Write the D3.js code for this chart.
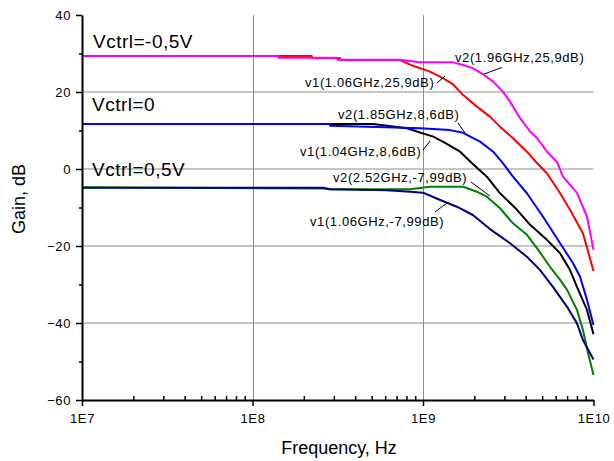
<!DOCTYPE html>
<html>
<head>
<meta charset="utf-8">
<script src="https://cdn.jsdelivr.net/npm/d3@7"></script>
<style>
  body { margin: 0; background: #fff; }
  svg { display: block; font-family: "Liberation Sans", Arial, sans-serif; }
</style>
</head>
<body>
<div id="chart"></div>
<script>
// values (frequency in Hz, gain in dB)
const magentaF = [1e7, 1.41e8, 1.42e8, 3.13e8, 3.15e8, 7.33e8, 9.6e8, 1.5e9, 1.72e9, 1.96e9, 2.25e9, 2.58e9, 2.94e9, 3.24e9, 3.71e9, 4.25e9, 4.67e9, 5.33e9, 6.11e9, 6.62e9, 8.0e9, 9.16e9, 1e10];
const magentaG = [29.35, 29.35, 28.9, 28.9, 28.4, 28.4, 27.7, 27.7, 27.0, 26.2, 24.6, 22.7, 20.1, 17.5, 13.2, 9.7, 8.05, 4.5, 1.8, -2.0, -6.2, -12.4, -21.0];

const redF = [1e7, 2.23e8, 2.24e8, 3.26e8, 3.27e8, 7.33e8, 8.73e8, 1.1e9, 1.31e9, 1.5e9, 1.72e9, 2.07e9, 2.47e9, 2.83e9, 3.37e9, 4.07e9, 4.67e9, 5.33e9, 6.37e9, 7.28e9, 8.67e9, 1e10];
const redG = [29.35, 29.35, 28.8, 28.8, 28.3, 28.3, 26.8, 25.3, 23.6, 22.0, 19.2, 16.2, 13.6, 11.0, 8.0, 4.5, 1.5, -1.1, -6.3, -10.6, -16.7, -26.5];

const blueF = [1e7, 2.84e8, 2.85e8, 5.37e8, 9.6e8, 1.44e9, 1.72e9, 2.16e9, 2.58e9, 2.94e9, 3.37e9, 4.07e9, 5.06e9, 6.37e9, 7.59e9, 8.34e9, 9.16e9, 1e10];
const blueG = [11.7, 11.7, 11.25, 10.9, 10.6, 10.1, 9.4, 7.1, 4.5, 1.5, -2.0, -6.3, -12.4, -19.3, -24.5, -28.0, -34.0, -40.5];

const blackF = [1e7, 5.09e8, 8.05e8, 9.6e8, 1.15e9, 1.38e9, 1.65e9, 1.94e9, 2.37e9, 2.83e9, 3.56e9, 4.25e9, 5.33e9, 6.37e9, 7.28e9, 8.0e9, 9.16e9, 1e10];
const blackG = [11.7, 11.7, 10.6, 9.5, 8.4, 6.5, 4.5, 1.5, -2.0, -6.3, -10.6, -14.5, -18.4, -21.9, -26.2, -30.6, -36.6, -42.9];

const greenF = [1e7, 2.59e8, 2.85e8, 8.4e8, 1.1e9, 1.72e9, 2.07e9, 2.37e9, 2.83e9, 3.37e9, 4.07e9, 4.67e9, 5.56e9, 6.37e9, 7.0e9, 8.0e9, 8.67e9, 9.29e9, 1e10];
const greenG = [-4.75, -5.06, -5.27, -5.27, -4.6, -4.6, -5.9, -7.2, -10.2, -14.1, -17.1, -20.6, -25.4, -28.8, -31.4, -36.6, -41.8, -47.8, -53.5];

const navyF = [1e7, 2.59e8, 2.85e8, 6.15e8, 8.4e8, 1e9, 1.26e9, 1.58e9, 1.96e9, 2.47e9, 3.24e9, 4.07e9, 4.85e9, 5.78e9, 7.0e9, 8.0e9, 8.67e9, 1e10];
const navyG = [-4.85, -4.85, -5.27, -5.53, -5.9, -6.15, -8.05, -9.8, -11.95, -15.6, -19.3, -22.8, -26.2, -30.6, -35.8, -40.1, -44.4, -49.5];

const xTicks = [1e7, 1e8, 1e9, 1e10];
const xTickLabels = ["1E7", "1E8", "1E9", "1E10"];
const yTicks = [-60, -40, -20, 0, 20, 40];
const yMinor = [-50, -30, -10, 10, 30];

const ctrlLabels = ["Vctrl=-0,5V", "Vctrl=0", "Vctrl=0,5V"];
const markerLabels = ["v2(1.96GHz,25,9dB)", "v1(1.06GHz,25,9dB)", "v2(1.85GHz,8,6dB)",
                      "v1(1.04GHz,8,6dB)", "v2(2.52GHz,-7,99dB)", "v1(1.06GHz,-7,99dB)"];

// drawing order: later ones sit on top in the flat part
const series = [
  {f: redF, g: redG, color: "#ff0000"},
  {f: magentaF, g: magentaG, color: "#ff00ff"},
  {f: blackF, g: blackG, color: "#000000"},
  {f: blueF, g: blueG, color: "#0000ff"},
  {f: greenF, g: greenG, color: "#008000"},
  {f: navyF, g: navyG, color: "#000080"}
];

const W = 614, H = 461;
const x = d3.scaleLog().domain([1e7, 1e10]).range([82, 593.5]);
const y = d3.scaleLinear().domain([-60, 40]).range([400, 15]);

const svg = d3.select("#chart").append("svg").attr("width", W).attr("height", H);

// grid
svg.append("g").selectAll("line").data([-40, -20, 0, 20]).join("line")
  .attr("x1", x(1e7)).attr("x2", x(1e10))
  .attr("y1", d => y(d)).attr("y2", d => y(d))
  .attr("stroke", "#8c8c8c").attr("stroke-width", 1);
svg.append("g").selectAll("line").data([1e8, 1e9]).join("line")
  .attr("x1", d => Math.round(x(d)) + 0.5).attr("x2", d => Math.round(x(d)) + 0.5)
  .attr("y1", y(40)).attr("y2", y(-60))
  .attr("stroke", "#8c8c8c").attr("stroke-width", 1);

// curves
const line = d3.line().x(d => x(d[0])).y(d => y(d[1]));
series.forEach(s => {
  svg.append("path")
    .datum(s.f.map((v, i) => [v, s.g[i]]))
    .attr("d", line)
    .attr("fill", "none")
    .attr("stroke", s.color)
    .attr("stroke-width", 2)
    .attr("stroke-linejoin", "round");
});

// axes
const xMinor = [];
[1e7, 1e8, 1e9].forEach(d => { for (let k = 2; k <= 9; k++) xMinor.push(d * k); });

const gx = svg.append("g").attr("transform", `translate(0,${y(-60)})`);
gx.call(d3.axisBottom(x).tickValues(xTicks).tickSizeInner(6).tickSizeOuter(0)
  .tickFormat((d, i) => xTickLabels[i]).tickPadding(8));
gx.append("g").call(d3.axisBottom(x).tickValues(xMinor).tickSizeInner(-4).tickSizeOuter(0).tickFormat(""))
  .select(".domain").remove();

const gy = svg.append("g").attr("transform", `translate(${x(1e7)},0)`);
gy.call(d3.axisLeft(y).tickValues(yTicks).tickSizeInner(6).tickSizeOuter(0).tickPadding(5));
gy.append("g").call(d3.axisLeft(y).tickValues(yMinor).tickSizeInner(3).tickSizeOuter(0).tickFormat(""))
  .select(".domain").remove();

svg.selectAll(".domain").attr("stroke", "#000").attr("stroke-width", 2);
svg.selectAll(".tick line").attr("stroke", "#000").attr("stroke-width", 1.5);
svg.selectAll(".tick text").attr("font-family", "Liberation Sans, Arial, sans-serif")
  .attr("font-size", 13).attr("fill", "#000").style("letter-spacing", "0.6px");

// axis titles
svg.append("text").attr("x", 339).attr("y", 454).attr("text-anchor", "middle")
  .attr("font-size", 18).text("Frequency, Hz");
svg.append("text").attr("transform", "translate(25,199) rotate(-90)").attr("text-anchor", "middle")
  .attr("font-size", 18).text("Gain, dB");

// Vctrl labels
const ctrlPos = [[93, 48], [92, 111], [92, 176]];
svg.append("g").selectAll("text").data(ctrlLabels).join("text")
  .attr("x", (d, i) => ctrlPos[i][0]).attr("y", (d, i) => ctrlPos[i][1])
  .attr("font-size", 19).style("letter-spacing", "0.5px").text(d => d);

// marker labels + leader lines
const markPos = [[455, 62], [305, 87], [338, 119], [300, 156], [333, 182], [310, 226]];
const leaders = [[502, 67.5, 484, 74], [437, 83, 445, 76], [458, 123, 465, 133],
                 [423, 150, 430, 141], [471, 182, 490, 196], [435, 212, 447, 203]];
svg.append("g").selectAll("text").data(markerLabels).join("text")
  .attr("x", (d, i) => markPos[i][0]).attr("y", (d, i) => markPos[i][1])
  .attr("font-size", 13).style("letter-spacing", "0.6px").text(d => d);
svg.append("g").selectAll("line").data(leaders).join("line")
  .attr("x1", d => d[0]).attr("y1", d => d[1]).attr("x2", d => d[2]).attr("y2", d => d[3])
  .attr("stroke", "#000").attr("stroke-width", 1);
</script>
</body>
</html>
